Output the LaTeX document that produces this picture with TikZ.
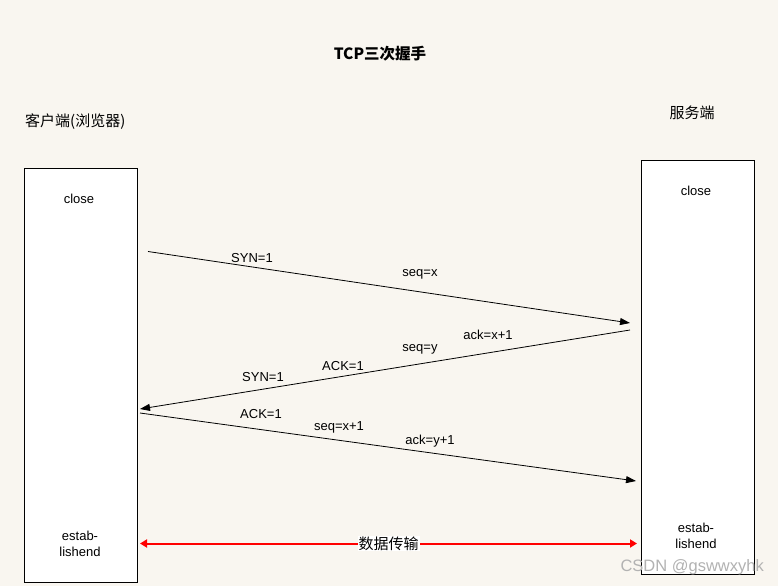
\documentclass[tikz,border=0pt]{standalone}
\usepackage{fontspec}
\setmainfont{Liberation Sans}
\newfontfamily\cjk{Noto Sans CJK SC}
\usetikzlibrary{arrows.meta}
\definecolor{bgcream}{RGB}{249,246,240}
\tikzset{x=1pt, y=-1pt, % One unit is one pixel of the reference
        every node/.style={ % Sets the properties for each text
            inner sep=0pt,
            font=\fontsize{13}{15.5}\selectfont},
        host/.style={ % The two boxes for client and server
            draw, fill=white, line width=0.8pt,
            minimum width=113pt, minimum height=414pt},
        cjktext/.style={font=\cjk\fontsize{15}{18}\selectfont},
        msg/.style={ % One message of the handshake
            draw, line width=0.8pt,
            -{Triangle[length=10pt,width=7pt]}},
        datalink/.style={ % The red double arrow at the bottom
            draw=red, line width=2pt,
            {Triangle[length=7pt,width=8pt]}-{Triangle[length=7pt,width=8pt]}}
        }

\begin{document}
\begin{tikzpicture}
    \fill[bgcream] (0,0) rectangle (778,586);
    \useasboundingbox (0,0) rectangle (778,586);

    \node[cjktext, font=\cjk\bfseries\fontsize{15.5}{18}\selectfont] (title) at (380,54) {TCP三次握手};
    \node[cjktext, anchor=west] (clientname) at (25,122) {客户端(浏览器)};
    \node[cjktext] (servername) at (692,113) {服务端};

    \node[host] (client) at (80.5,375) {};
    \node[host] (server) at (697.5,367) {};

    \node (cclose) at (79,199) {close};
    \node (sclose) at (696,191) {close};
    \node[align=center] (cestab) at (80,544) {estab-\\lishend};
    \node[align=center] (sestab) at (696,536) {estab-\\lishend};

    \coordinate (syn1) at (148,251.5);
    \coordinate (syn2) at (630,323);
    \coordinate (synack1) at (630,330);
    \coordinate (synack2) at (140,409);
    \coordinate (ack1) at (140,413);
    \coordinate (ack2) at (636,481);
    \coordinate (data1) at (140,543.5);
    \coordinate (data2) at (637,543.5);

    \draw (syn1) edge[msg] (syn2);
    \draw (synack1) edge[msg] (synack2);
    \draw (ack1) edge[msg] (ack2);
    \draw (data1) edge[datalink] node[cjktext, fill=white, inner sep=1pt] (datatext) {数据传输} (data2);

    \node (synA) at (252,258) {SYN=1};
    \node (seqA) at (420,274) {seq=x};
    \node (ackB) at (488,335) {ack=x+1};
    \node (seqB) at (420,349) {seq=y};
    \node (ACKB) at (343,366) {ACK=1};
    \node (synB) at (263,377) {SYN=1};
    \node (ACKC) at (261,414) {ACK=1};
    \node (seqC) at (339,427) {seq=x+1};
    \node (ackC) at (430,441) {ack=y+1};

    \node[anchor=east, text=gray!60, font=\fontsize{16.5}{18}\selectfont] (mark) at (764,567) {CSDN @gswwxyhk};
\end{tikzpicture}
\end{document}
